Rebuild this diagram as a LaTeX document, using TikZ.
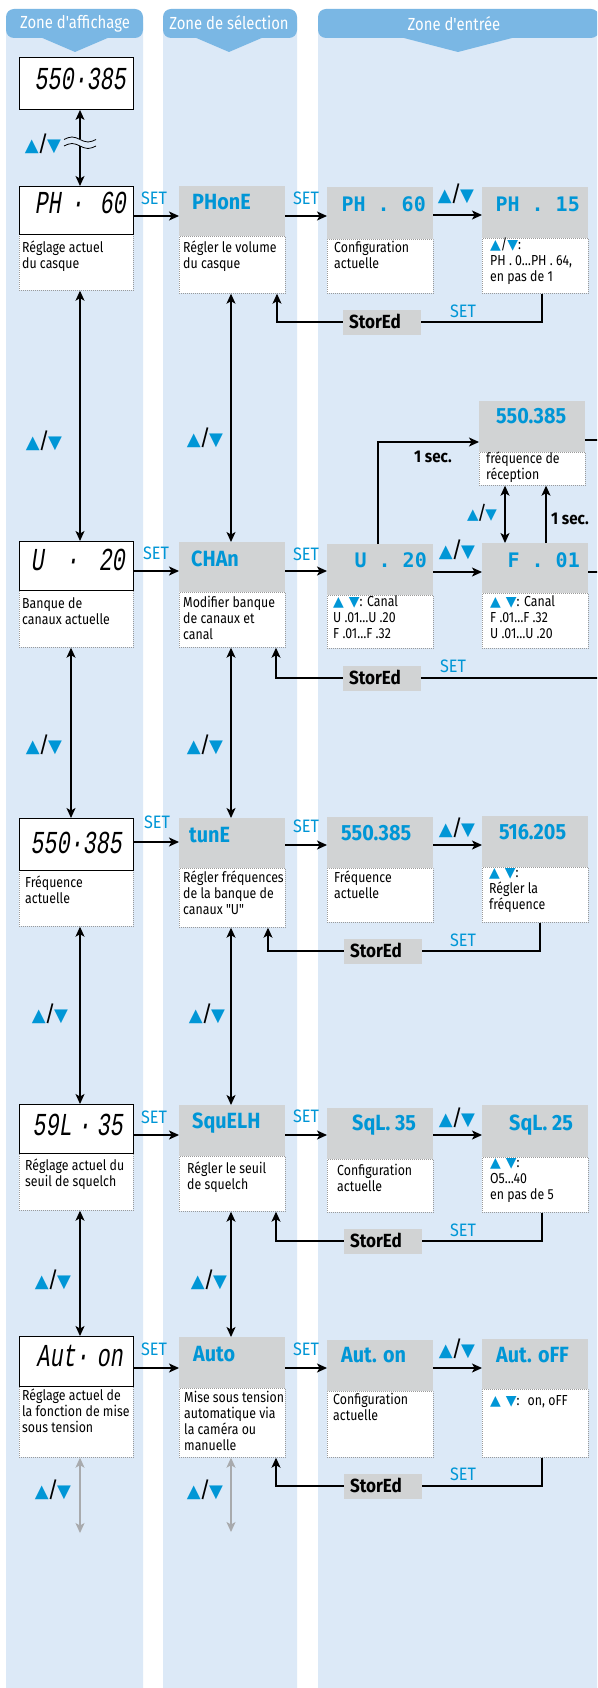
\documentclass[tikz,border=0pt]{standalone}
\usepackage{fontspec}
\setmainfont{Fira Sans}
\newfontfamily\cond{Fira Sans}[FakeStretch=0.85]
\newfontfamily\semi{Fira Sans}[FakeStretch=0.9]
\newfontfamily\lcdf{Liberation Mono}[FakeStretch=0.68,FakeSlant=0.15]
\newfontfamily\monof{DejaVu Sans Mono}
\newfontfamily\djv{DejaVu Sans}
\usetikzlibrary{arrows.meta}
\definecolor{colbg}{HTML}{DCE9F7}
\definecolor{hdr}{HTML}{7AB7E4}
\definecolor{gbox}{HTML}{D1D3D4}
\definecolor{cblue}{HTML}{0096D6}
\definecolor{dotc}{HTML}{9A9A9A}
\definecolor{garr}{HTML}{A8AAAD}
\newcommand\su{{\djv\fontsize{14}{14}\selectfont\textcolor{cblue}{▲}}}
\newcommand\sd{{\djv\fontsize{14}{14}\selectfont\textcolor{cblue}{▼}}}
\newcommand\updn{{\djv\fontsize{18}{18}\selectfont\textcolor{cblue}{▲}}\kern-1.5pt{\fontsize{22}{22}\selectfont/}\kern-1.5pt{\djv\fontsize{18}{18}\selectfont\textcolor{cblue}{▼}}}
\newcommand\updns{{\djv\fontsize{15}{15}\selectfont\textcolor{cblue}{▲}}\kern-1.5pt{\fontsize{19}{19}\selectfont/}\kern-1.5pt{\djv\fontsize{15}{15}\selectfont\textcolor{cblue}{▼}}}
\newcommand\bx[6]{\node[#1, minimum width=#5pt, minimum height=#6pt, anchor=north west] (#2) at (#3,#4) {};}
\newcommand\dt[4]{\node[desctxt] (#1) at (#2,#3-14) {#4};}
\newcommand\storbox[3]{\node[stor, minimum width=78pt, minimum height=25pt] (#1) at (#2+39,#3) {};
  \node[stortxt] (#1t) at ([shift={(6pt,-6.5pt)}]#1.west) {StorEd};}
\tikzset{
  disp/.style={draw=black, line width=0.9pt, fill=white, inner sep=0pt},
  grayb/.style={fill=gbox, inner sep=0pt},
  descb/.style={draw=dotc, line width=0.7pt, dash pattern=on 0.8pt off 1.2pt, fill=white, inner sep=0pt},
  desctxt/.style={font=\cond\fontsize{14.5}{16}\selectfont, align=left, inner sep=0pt, anchor=north west, execute at begin node={\rule{0pt}{14pt}}},
  lcdtxt/.style={font=\lcdf\fontsize{32}{32}\selectfont, inner sep=0pt, anchor=base east},
  selt/.style={font=\semi\bfseries\fontsize{22}{22}\selectfont, text=cblue, inner sep=0pt, anchor=base west},
  entm/.style={font=\monof\bfseries\fontsize{20}{20}\selectfont, text=cblue, inner sep=0pt, anchor=base east},
  stor/.style={fill=gbox, inner sep=0pt},
  stortxt/.style={font=\semi\bfseries\fontsize{19}{19}\selectfont, inner sep=0pt, anchor=base west},
  setl/.style={font=\semi\fontsize{18}{18}\selectfont, text=cblue, inner sep=0pt},
  secl/.style={font=\semi\bfseries\fontsize{17}{17}\selectfont, inner sep=0pt},
  udl/.style={inner sep=0pt},
  hdrtxt/.style={font=\cond\fontsize{17.5}{17.5}\selectfont, text=white, inner sep=0pt},
  arr/.style={line width=1.2pt, -{Stealth[length=10pt,width=9pt,inset=2.5pt]}},
  arrb/.style={line width=1.2pt, {Stealth[length=10pt,width=9pt,inset=2.5pt]}-{Stealth[length=10pt,width=9pt,inset=2.5pt]}},
  ln/.style={line width=1.2pt},
  garrb/.style={arrb, draw=garr, fill=garr},
}
\begin{document}
\begin{tikzpicture}[x=1pt,y=-1pt]
\useasboundingbox (0,0) rectangle (597,1688);
\clip (0,0) rectangle (597,1688);
\fill[white] (0,0) rectangle (597,1688);
% columns
\fill[colbg, rounded corners=3pt] (6,20) rectangle (143,1692);
\fill[colbg, rounded corners=3pt] (163,20) rectangle (297,1692);
\fill[colbg, rounded corners=3pt] (318,20) rectangle (620,1692);
% headers
\fill[hdr, rounded corners=8pt] (6,9) rectangle (143,38);
\fill[hdr] (40,37) -- (75,52) -- (110,37) -- cycle;
\fill[hdr, rounded corners=8pt] (163,9) rectangle (297,38);
\fill[hdr] (194,37) -- (229,52) -- (264,37) -- cycle;
\fill[hdr, rounded corners=8pt] (318,9) rectangle (599,38);
\fill[hdr] (400,37) -- (458,52) -- (516,37) -- cycle;
\node[hdrtxt] (h1) at (75,24) {Zone d'affichage};
\node[hdrtxt] (h2) at (229,23) {Zone de sélection};
\node[hdrtxt] (h3) at (454,24) {Zone d'entrée};

% ---------- boxes ----------
\bx{disp}{d0}{19}{57}{114}{52}
\bx{descb}{d1d}{19}{234}{114}{56}
\bx{disp}{d1}{19}{186}{114}{48}
\bx{descb}{g1d}{179}{236}{106}{57}
\bx{grayb}{g1}{179}{186}{106}{50}
\bx{descb}{c1ad}{327}{239}{106}{54}
\bx{grayb}{c1a}{327}{187}{106}{52}
\bx{descb}{c1bd}{482}{238}{106}{55}
\bx{grayb}{c1b}{482}{187}{106}{51}
\bx{descb}{d2d}{19}{590}{114}{57}
\bx{disp}{d2}{19}{541}{114}{49}
\bx{descb}{g2d}{179}{592}{106}{55}
\bx{grayb}{g2}{179}{542}{106}{50}
\bx{descb}{c2ad}{327}{595}{106}{53}
\bx{grayb}{c2a}{327}{544}{106}{51}
\bx{descb}{c2bd}{482}{593}{106}{55}
\bx{grayb}{c2b}{482}{543}{106}{50}
\bx{descb}{c2td}{479}{452}{106}{33}
\bx{grayb}{c2t}{479}{401}{106}{51}
\bx{descb}{d3d}{19}{870}{114}{56}
\bx{disp}{d3}{19}{818}{114}{52}
\bx{descb}{g3d}{179}{868}{106}{59}
\bx{grayb}{g3}{179}{818}{106}{50}
\bx{descb}{c3ad}{327}{868}{106}{54}
\bx{grayb}{c3a}{327}{817}{106}{51}
\bx{descb}{c3bd}{482}{867}{106}{55}
\bx{grayb}{c3b}{482}{816}{106}{51}
\bx{descb}{d4d}{19}{1153}{114}{57}
\bx{disp}{d4}{19}{1104}{114}{49}
\bx{descb}{g4d}{179}{1156}{106}{55}
\bx{grayb}{g4}{179}{1105}{106}{51}
\bx{descb}{c4ad}{327}{1159}{106}{53}
\bx{grayb}{c4a}{327}{1108}{106}{51}
\bx{descb}{c4bd}{482}{1157}{106}{55}
\bx{grayb}{c4b}{482}{1105}{106}{52}
\bx{descb}{d5d}{19}{1386}{114}{71}
\bx{disp}{d5}{19}{1336}{114}{50}
\bx{descb}{g5d}{179}{1388}{106}{69}
\bx{grayb}{g5}{179}{1337}{106}{51}
\bx{descb}{c5ad}{327}{1391}{106}{66}
\bx{grayb}{c5a}{327}{1340}{106}{51}
\bx{descb}{c5bd}{482}{1389}{106}{68}
\bx{grayb}{c5b}{482}{1339}{106}{50}
\storbox{s1}{343}{322}
\storbox{s2}{343}{678}
\storbox{s3}{344}{951}
\storbox{s4}{344}{1241}
\storbox{s5}{344}{1486}

% ---------- box texts ----------
\node[lcdtxt] (d0t) at (126,90) {550·385};
\node[lcdtxt] (d1t) at (126,214) {PH\kern10pt·\kern16pt60};
\node[lcdtxt] (d2t) at (125,570) {U\kern22pt·\kern20pt20};
\node[lcdtxt] (d3t) at (122,853) {550·385};
\node[lcdtxt] (d4t) at (123,1135) {59L\kern6pt·\kern6pt35};
\node[lcdtxt] (d5t) at (123,1366) {Aut·\kern8pt on};

\node[selt] (g1t) at (192,210) {PHonE};
\node[selt] (g2t) at (191,566) {CHAn};
\node[selt] (g3t) at (189,842) {tunE};
\node[selt] (g4t) at (192,1128) {SquELH};
\node[selt] (g5t) at (193,1361) {Auto};

\node[entm] (c1at) at (426,212) {PH . 60};
\node[entm] (c1bt) at (580,212) {PH . 15};
\node[entm] (c2at) at (427,567) {U . 20};
\node[entm] (c2bt) at (580,567) {F . 01};
\node[selt] (c2tt) at (496,423) {550.385};
\node[selt] (c3at) at (341,840) {550.385};
\node[selt] (c3bt) at (499,839) {516.205};
\node[selt] (c4at) at (352,1130) {SqL. 35};
\node[selt] (c4bt) at (509,1130) {SqL. 25};
\node[selt] (c5at) at (341,1362) {Aut. on};
\node[selt] (c5bt) at (496,1362) {Aut. oFF};

\dt{d1dx}{22}{255}{Réglage actuel\\du casque}
\dt{g1dx}{183}{255}{Régler le volume\\du casque}
\dt{c1adx}{334}{255}{Configuration\\actuelle}
\dt{c1bdx}{490}{252}{\su/\sd:\\PH . 0…PH . 64,\\en pas de 1}
\dt{d2dx}{22}{611}{Banque de\\canaux actuelle}
\dt{g2dx}{183}{610}{Modifier banque\\de canaux et\\canal}
\dt{c2adx}{333}{609}{\su\kern5pt\sd: Canal\\U .01…U .20\\F .01…F .32}
\dt{c2bdx}{490}{609}{\su\kern5pt\sd: Canal\\F .01…F .32\\U .01…U .20}
\dt{c2tdx}{486}{466}{fréquence de\\réception}
\dt{d3dx}{25}{890}{Fréquence\\actuelle}
\dt{g3dx}{183}{885}{Régler fréquences\\de la banque de\\canaux "U"}
\dt{c3adx}{334}{885}{Fréquence\\actuelle}
\dt{c3bdx}{489}{882}{\su\kern5pt\sd:\\Régler la\\fréquence}
\dt{d4dx}{25}{1173}{Réglage actuel du\\seuil de squelch}
\dt{g4dx}{187}{1176}{Régler le seuil\\de squelch}
\dt{c4adx}{337}{1178}{Configuration\\actuelle}
\dt{c4bdx}{490}{1172}{\su\kern5pt\sd:\\O5…40\\en pas de 5}
\dt{d5dx}{22}{1403}{Réglage actuel de\\la fonction de mise\\sous tension}
\dt{g5dx}{184}{1405}{Mise sous tension\\automatique via\\la caméra ou\\manuelle}
\dt{c5adx}{333}{1407}{Configuration\\actuelle}
\dt{c5bdx}{490}{1405}{\su\kern5pt\sd:\kern8pt on, oFF}

% ---------- helper coordinates ----------
\coordinate (y1) at (0,216); \coordinate (y1b) at (0,215);
\coordinate (y2) at (0,571); \coordinate (y2b) at (0,572);
\coordinate (y3) at (0,842); \coordinate (y3b) at (0,845);
\coordinate (y4) at (0,1135);
\coordinate (y5) at (0,1368);
\coordinate (xa) at (80,0); \coordinate (xb) at (71,0); \coordinate (xc) at (231,0);

% ---------- vertical connectors ----------
\draw[arrb] (d0.south -| xa) -- (d1.north -| xa);
\fill[colbg] (70,139) rectangle (90,146);
\draw[line width=0.8pt] (64,139.5) sin (72,137) cos (80,139.5) sin (88,142) cos (96,139.5);
\draw[line width=0.8pt] (64,146) sin (72,143.5) cos (80,146) sin (88,148.5) cos (96,146);
\draw[arrb] (d1d.south -| xa) -- (d2.north -| xa);
\draw[arrb] (d2d.south -| xb) -- (d3.north -| xb);
\draw[arrb] (d3d.south -| xa) -- (d4.north -| xa);
\draw[arrb] (d4d.south -| xa) -- (d5.north -| xa);
\coordinate (e1) at (80,1533);
\draw[garrb] (d5d.south -| xa) -- (e1);
\draw[arrb] (g1d.south -| xc) -- (g2.north -| xc);
\draw[arrb] (g2d.south -| xc) -- (g3.north -| xc);
\draw[arrb] (g3d.south -| xc) -- (g4.north -| xc);
\draw[arrb] (g4d.south -| xc) -- (g5.north -| xc);
\coordinate (e2) at (231,1532);
\draw[garrb] (g5d.south -| xc) -- (e2);

% ---------- row 1 ----------
\draw[arr] (d1.east |- y1) -- (g1.west |- y1);
\draw[arr] (g1.east |- y1) -- (c1a.west |- y1);
\draw[arr] (c1a.east |- y1b) -- (c1b.west |- y1b);
\coordinate (rb1) at (542,322); \coordinate (ru1) at (277,322);
\draw[ln] (c1bd.south -| rb1) |- (s1.east);
\draw[arr] (s1.west) -| (g1d.south -| ru1);
% ---------- row 2 ----------
\draw[arr] (d2.east |- y2) -- (g2.west |- y2);
\draw[arr] (g2.east |- y2) -- (c2a.west |- y2);
\draw[arr] (c2a.east |- y2b) -- (c2b.west |- y2b);
\coordinate (k1) at (378,442);
\draw[arr] (c2a.north -| k1) |- (c2t.west |- k1);
\coordinate (k2) at (604,440); \draw[ln] (c2t.east |- k2) -- (k2);
\coordinate (v1) at (505,0); \draw[arrb] (c2td.south -| v1) -- (c2b.north -| v1);
\coordinate (v2) at (546,0); \draw[arr] (c2b.north -| v2) -- (c2td.south -| v2);
\coordinate (k3) at (604,572); \draw[ln] (c2b.east |- k3) -- (k3);
\coordinate (k4) at (604,678); \draw[ln] (k4) -- (s2.east);
\coordinate (ru2) at (276,678);
\draw[arr] (s2.west) -| (g2d.south -| ru2);
% ---------- row 3 ----------
\draw[arr] (d3.east |- y3) -- (g3.west |- y3);
\draw[arr] (g3.east |- y3b) -- (c3a.west |- y3b);
\draw[arr] (c3a.east |- y3b) -- (c3b.west |- y3b);
\coordinate (rb3) at (540,951); \coordinate (ru3) at (268,951);
\draw[ln] (c3bd.south -| rb3) |- (s3.east);
\draw[arr] (s3.west) -| (g3d.south -| ru3);
% ---------- row 4 ----------
\draw[arr] (d4.east |- y4) -- (g4.west |- y4);
\draw[arr] (g4.east |- y4) -- (c4a.west |- y4);
\draw[arr] (c4a.east |- y4) -- (c4b.west |- y4);
\coordinate (rb4) at (542,1241); \coordinate (ru4) at (276,1241);
\draw[ln] (c4bd.south -| rb4) |- (s4.east);
\draw[arr] (s4.west) -| (g4d.south -| ru4);
% ---------- row 5 ----------
\draw[arr] (d5.east |- y5) -- (g5.west |- y5);
\draw[arr] (g5.east |- y5) -- (c5a.west |- y5);
\draw[arr] (c5a.east |- y5) -- (c5b.west |- y5);
\coordinate (rb5) at (542,1486); \coordinate (ru5) at (276,1486);
\draw[ln] (c5bd.south -| rb5) |- (s5.east);
\draw[arr] (s5.west) -| (g5d.south -| ru5);

% ---------- labels ----------
\node[setl] (l11) at (154,198) {SET};
\node[setl] (l12) at (306,198) {SET};
\node[setl] (l13) at (463,311) {SET};
\node[setl] (l21) at (156,553) {SET};
\node[setl] (l22) at (306,554) {SET};
\node[setl] (l23) at (453,666) {SET};
\node[setl] (l31) at (157,822) {SET};
\node[setl] (l32) at (306,826) {SET};
\node[setl] (l33) at (463,940) {SET};
\node[setl] (l41) at (154,1117) {SET};
\node[setl] (l42) at (306,1116) {SET};
\node[setl] (l43) at (463,1230) {SET};
\node[setl] (l51) at (154,1349) {SET};
\node[setl] (l52) at (306,1349) {SET};
\node[setl] (l53) at (463,1474) {SET};

\node[udl] (a1) at (456,194) {\updn};
\node[udl] (a2) at (457,550) {\updn};
\node[udl] (a3) at (457,828) {\updn};
\node[udl] (a4) at (457,1118) {\updn};
\node[udl] (a5) at (457,1349) {\updn};
\node[udl] (a6) at (482,513) {\updns};
\node[udl] (v01) at (43,144) {\updn};
\node[udl] (v11) at (44,441) {\updn};
\node[udl] (v12) at (205,438) {\updn};
\node[udl] (v21) at (44,745) {\updn};
\node[udl] (v22) at (205,745) {\updn};
\node[udl] (v31) at (50,1014) {\updn};
\node[udl] (v32) at (207,1014) {\updn};
\node[udl] (v41) at (53,1280) {\updn};
\node[udl] (v42) at (209,1280) {\updn};
\node[udl] (v51) at (53,1490) {\updn};
\node[udl] (v52) at (205,1490) {\updn};

\node[secl] (t1) at (433,457) {1 sec.};
\node[secl] (t2) at (570,519) {1 sec.};
\end{tikzpicture}
\end{document}
